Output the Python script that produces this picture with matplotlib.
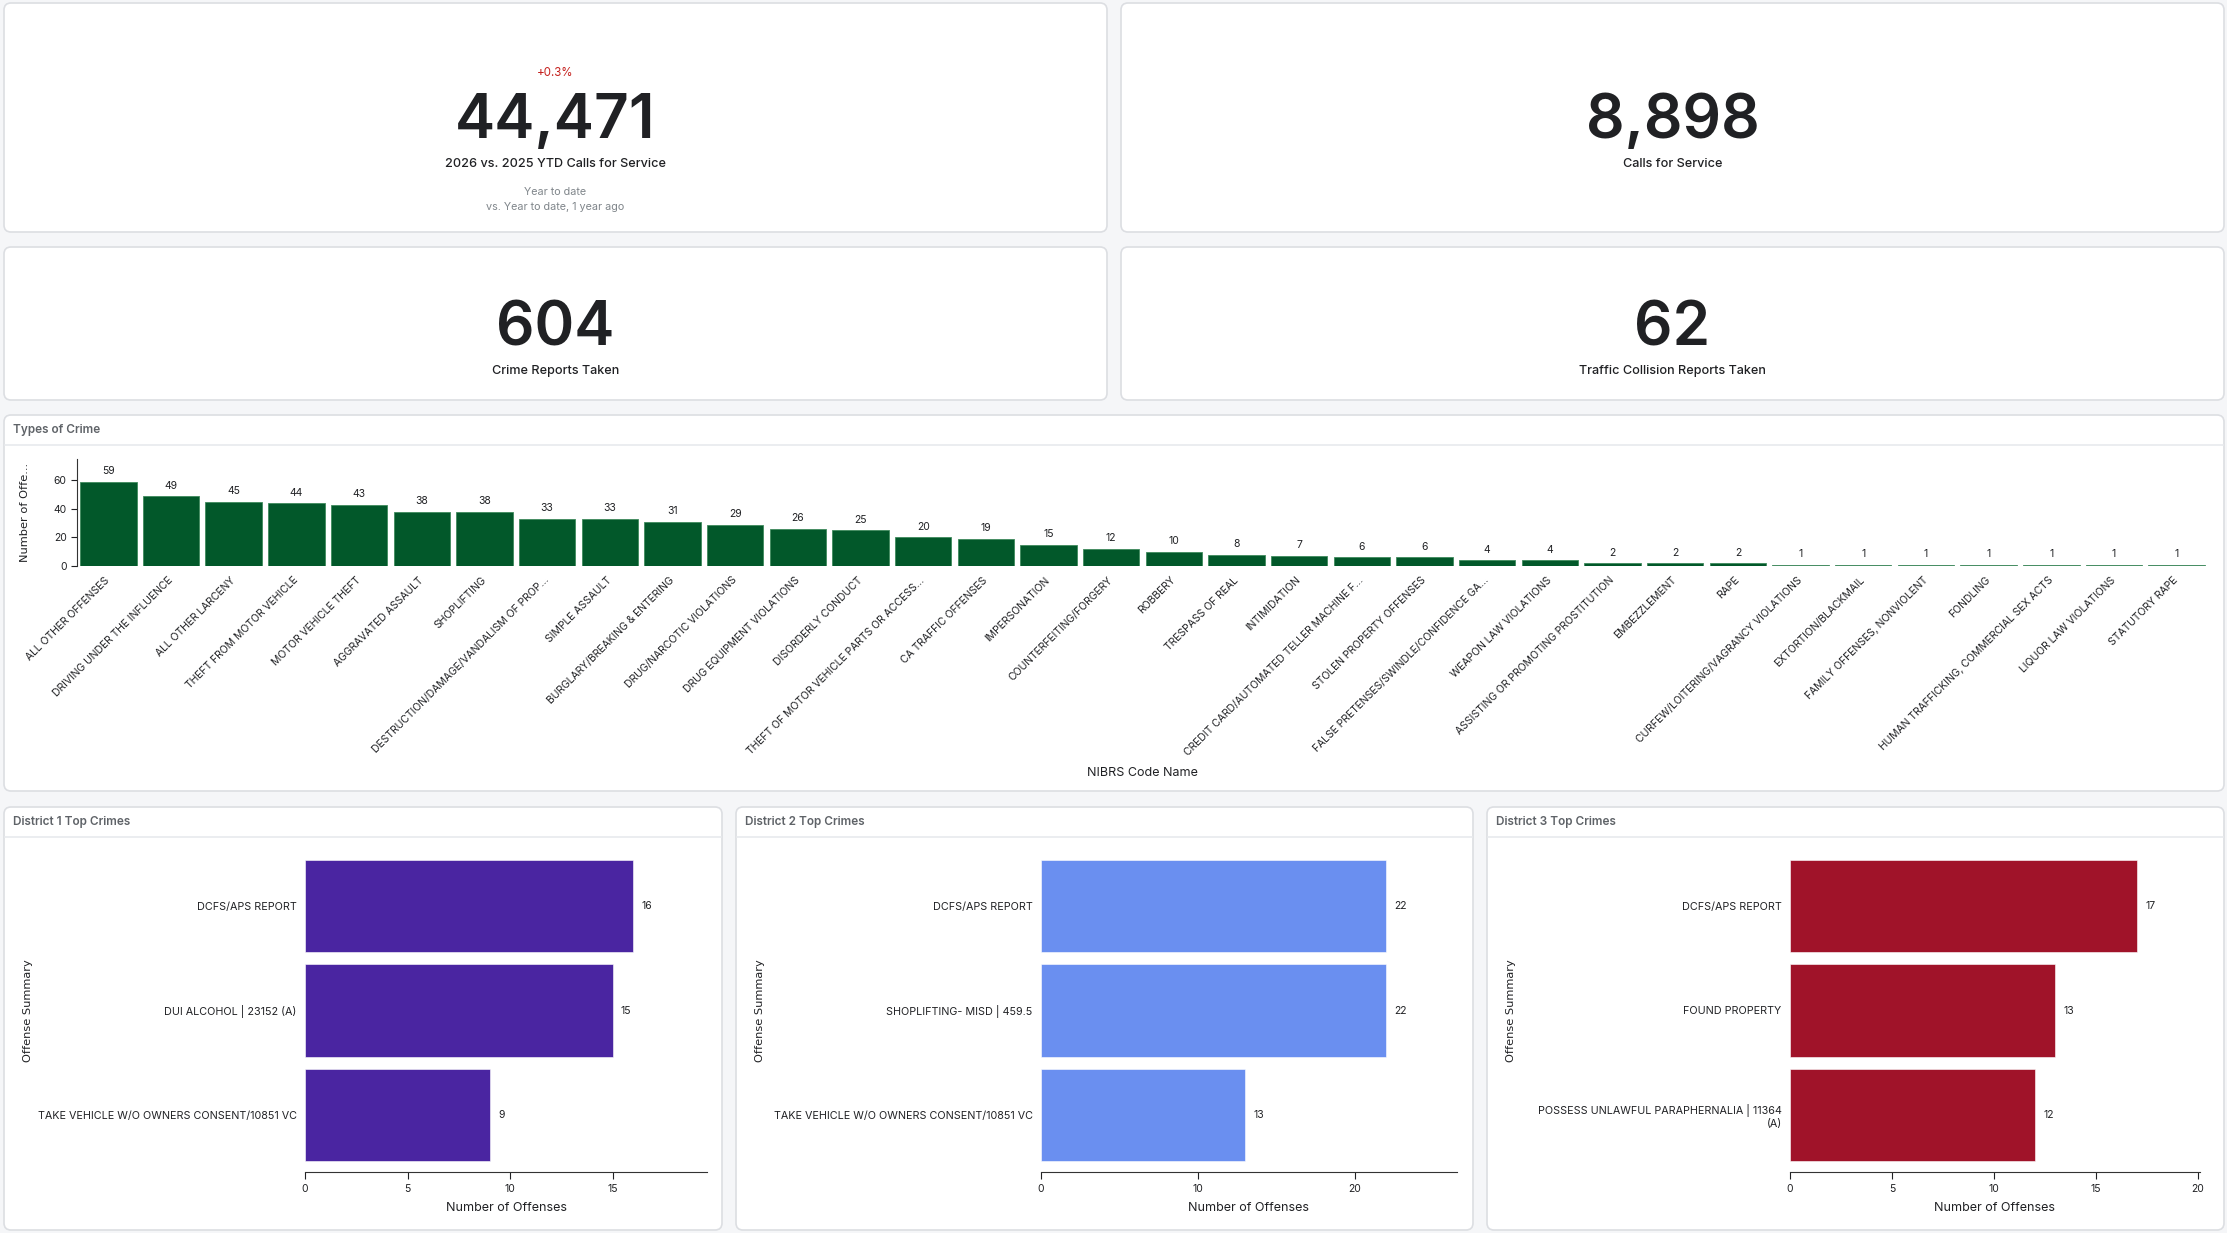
import matplotlib
matplotlib.use("Agg")
import matplotlib.pyplot as plt
from matplotlib.patches import FancyBboxPatch
from matplotlib.ticker import MultipleLocator

plt.rcParams['font.family'] = ['Inter', 'DejaVu Sans']

W, H = 2227, 1233

# ---- data ----
kpi_values = ['44,471', '8,898', '604', '62']
kpi_titles = ['2026 vs. 2025 YTD Calls for Service', 'Calls for Service',
              'Crime Reports Taken', 'Traffic Collision Reports Taken']
kpi_delta = '+0.3%'
kpi_notes = ['Year to date', 'vs. Year to date, 1 year ago']

crime_types = [
    'ALL OTHER OFFENSES', 'DRIVING UNDER THE INFLUENCE', 'ALL OTHER LARCENY',
    'THEFT FROM MOTOR VEHICLE', 'MOTOR VEHICLE THEFT', 'AGGRAVATED ASSAULT',
    'SHOPLIFTING', 'DESTRUCTION/DAMAGE/VANDALISM OF PROP...', 'SIMPLE ASSAULT',
    'BURGLARY/BREAKING & ENTERING', 'DRUG/NARCOTIC VIOLATIONS',
    'DRUG EQUIPMENT VIOLATIONS', 'DISORDERLY CONDUCT',
    'THEFT OF MOTOR VEHICLE PARTS OR ACCESS...', 'CA TRAFFIC OFFENSES',
    'IMPERSONATION', 'COUNTERFEITING/FORGERY', 'ROBBERY', 'TRESPASS OF REAL',
    'INTIMIDATION', 'CREDIT CARD/AUTOMATED TELLER MACHINE F...',
    'STOLEN PROPERTY OFFENSES', 'FALSE PRETENSES/SWINDLE/CONFIDENCE GA...',
    'WEAPON LAW VIOLATIONS', 'ASSISTING OR PROMOTING PROSTITUTION',
    'EMBEZZLEMENT', 'RAPE', 'CURFEW/LOITERING/VAGRANCY VIOLATIONS',
    'EXTORTION/BLACKMAIL', 'FAMILY OFFENSES, NONVIOLENT', 'FONDLING',
    'HUMAN TRAFFICKING, COMMERCIAL SEX ACTS', 'LIQUOR LAW VIOLATIONS',
    'STATUTORY RAPE']
crime_counts = [59, 49, 45, 44, 43, 38, 38, 33, 33, 31, 29, 26, 25, 20, 19,
                15, 12, 10, 8, 7, 6, 6, 4, 4, 2, 2, 2, 1, 1, 1, 1, 1, 1, 1]

district_titles = ['District 1 Top Crimes', 'District 2 Top Crimes', 'District 3 Top Crimes']
d1_offenses = ['DCFS/APS REPORT', 'DUI ALCOHOL | 23152 (A)',
               'TAKE VEHICLE W/O OWNERS CONSENT/10851 VC']
d1_counts = [16, 15, 9]
d2_offenses = ['DCFS/APS REPORT', 'SHOPLIFTING- MISD | 459.5',
               'TAKE VEHICLE W/O OWNERS CONSENT/10851 VC']
d2_counts = [22, 22, 13]
d3_offenses = ['DCFS/APS REPORT', 'FOUND PROPERTY',
               'POSSESS UNLAWFUL PARAPHERNALIA | 11364\n(A)']
d3_counts = [17, 13, 12]

district_colors = ['#4a25a1', '#6a8ff0', '#a01329']
district_xmax = [19.6, 26.5, 20.1]
district_step = [5, 10, 5]

TXT = '#202124'
GREY = '#5f6368'


def px_axes(left, top, right, bottom):
    return fig.add_axes([left / W, 1 - bottom / H, (right - left) / W, (bottom - top) / H])


fig = plt.figure(figsize=(W / 100, H / 100), dpi=100, facecolor='#f5f6f8')

bg = fig.add_axes([0, 0, 1, 1])
bg.set_xlim(0, W)
bg.set_ylim(H, 0)
bg.axis('off')
bg.set_zorder(-1)


def panel(x0, y0, x1, y1, title=None, sep=None):
    bg.add_patch(FancyBboxPatch((x0, y0), x1 - x0, y1 - y0,
                                boxstyle='round,pad=0,rounding_size=7',
                                fc='white', ec='#dcdee2', lw=1.2))
    if title:
        bg.text(x0 + 9, y0 + 15, title, fontsize=8.5, fontweight='semibold',
                color=GREY, va='center', ha='left')
        bg.plot([x0 + 1, x1 - 1], [sep, sep], color='#e8eaed', lw=1.2)


# ---- KPI cards ----
cards = [(4, 3, 1107, 232), (1121, 3, 2224, 232),
         (4, 247, 1107, 400), (1121, 247, 2224, 400)]
for i, (x0, y0, x1, y1) in enumerate(cards):
    panel(x0, y0, x1, y1)
    cx = (x0 + x1) / 2
    base = 138 if i < 2 else 345
    bg.text(cx, base, kpi_values[i], fontsize=43.5, fontweight='semibold',
            color=TXT, ha='center', va='baseline')
    bg.text(cx, base + 29, kpi_titles[i], fontsize=9.1, fontweight='medium',
            color=TXT, ha='center', va='baseline')
    if i == 0:
        bg.text(cx, 76, kpi_delta, fontsize=8.3, color='#c5221f', ha='center', va='baseline')
        bg.text(cx, 195, kpi_notes[0], fontsize=7.8, color='#80868b', ha='center', va='baseline')
        bg.text(cx, 210, kpi_notes[1], fontsize=7.8, color='#80868b', ha='center', va='baseline')

# ---- Types of Crime ----
panel(4, 415, 2224, 791, 'Types of Crime', 445)
ax = px_axes(77, 459, 2208, 566)
ax.set_facecolor('none')
xs = range(len(crime_counts))
bars = ax.bar(xs, crime_counts, width=0.9, color='#02582a', edgecolor='#3f8a5c', linewidth=0.6)
ax.bar_label(bars, padding=4, fontsize=7.5, color=TXT)
ax.set_xlim(-0.5, len(crime_counts) - 0.5)
ax.set_ylim(0, 75)
ax.set_yticks([0, 20, 40, 60])
ax.set_xticks(list(xs))
ax.set_xticklabels(crime_types, rotation=45, ha='right', va='center',
                   rotation_mode='anchor', fontsize=7.5, color=TXT)
ax.tick_params(axis='x', length=0, pad=9)
ax.tick_params(axis='y', labelsize=7.5, length=4, colors=TXT)
for s in ['top', 'right', 'bottom']:
    ax.spines[s].set_visible(False)
ax.spines['left'].set_color('#333333')
ax.set_ylabel('Number of Offe...', fontsize=8.2, family='DejaVu Sans', color=TXT)
ax.yaxis.set_label_coords(-0.022, 0.5)
ax.set_xlabel('NIBRS Code Name', fontsize=9, color=TXT)
ax.xaxis.set_label_coords(0.5, -1.88)

# ---- District panels ----
d_panels = [(4, 722), (736, 1473), (1487, 2224)]
d_axes = [(305, 707), (1041, 1457), (1790, 2200)]
d_offenses = [d1_offenses, d2_offenses, d3_offenses]
d_counts = [d1_counts, d2_counts, d3_counts]
for i in range(3):
    x0, x1 = d_panels[i]
    panel(x0, 807, x1, 1230, district_titles[i], 837)
    a = px_axes(d_axes[i][0], 849, d_axes[i][1], 1172)
    a.set_facecolor('none')
    yy = range(len(d_counts[i]))
    hb = a.barh(yy, d_counts[i], height=0.885, color=district_colors[i],
                edgecolor='white', linewidth=0.4)
    a.bar_label(hb, padding=6, fontsize=7.5, color=TXT)
    a.set_ylim(len(d_counts[i]) - 0.45, -0.55)
    a.set_xlim(0, district_xmax[i])
    a.xaxis.set_major_locator(MultipleLocator(district_step[i]))
    a.set_yticks(list(yy))
    a.set_yticklabels(d_offenses[i], fontsize=7.75, color=TXT)
    a.tick_params(axis='y', length=0, pad=6)
    a.tick_params(axis='x', labelsize=7.5, length=5, colors=TXT)
    for s in ['top', 'right', 'left']:
        a.spines[s].set_visible(False)
    a.spines['bottom'].set_color('#333333')
    a.set_xlabel('Number of Offenses', fontsize=9, color=TXT, labelpad=6)
    a.set_ylabel('Offense Summary', fontsize=8.2, family='DejaVu Sans', color=TXT)
    a.yaxis.set_label_coords((x0 + 29 - d_axes[i][0]) / (d_axes[i][1] - d_axes[i][0]), 0.5)

fig.savefig('out.png', dpi=100, facecolor=fig.get_facecolor())
